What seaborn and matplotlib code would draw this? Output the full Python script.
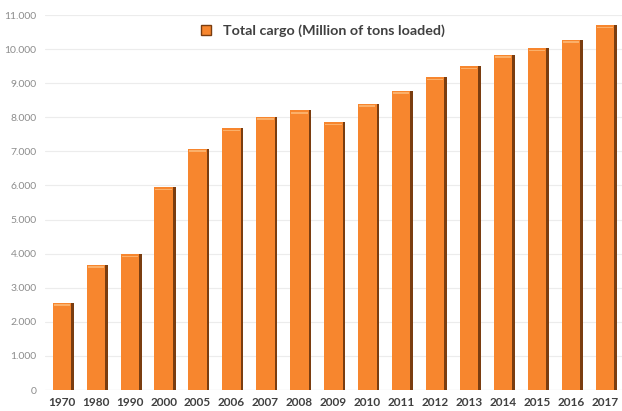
import numpy as np
import pandas as pd
import matplotlib.pyplot as plt
import seaborn as sns
from matplotlib.ticker import FuncFormatter
from matplotlib.lines import Line2D

# Datos
years = ["1970", "1980", "1990", "2000", "2005", "2006", "2007", "2008", "2009",
         "2010", "2011", "2012", "2013", "2014", "2015", "2016", "2017"]
cargo = [2560, 3680, 3980, 5950, 7080, 7680, 8020, 8200, 7850,
         8400, 8780, 9180, 9500, 9830, 10020, 10280, 10700]

df = pd.DataFrame({"Year": years, "Cargo": cargo})

sns.set_style("white")
plt.rcParams["font.family"] = ["Lato", "DejaVu Sans"]

fig = plt.figure(figsize=(6.22, 4.11), dpi=100)
ax = fig.add_axes([0.072, 0.051, 0.928, 0.9125])

# sombra oscura a la derecha de cada barra
x = np.arange(len(years))
ax.bar(x + 0.07, df["Cargo"], width=0.56, color="#7a3d10", linewidth=0, zorder=2)
sns.barplot(data=df, x="Year", y="Cargo", color="#f7862e", saturation=1,
            width=0.54, linewidth=0, ax=ax, zorder=3)
# brillo en la parte superior
ax.bar(x, [45] * len(x), bottom=df["Cargo"] - 90, width=0.48,
       color="#fbb06a", linewidth=0, zorder=4)

ax.set_ylim(0, 11000)
ax.set_xlim(-0.5, len(years) - 0.5)
ax.set_yticks(range(0, 11001, 1000))
ax.yaxis.set_major_formatter(FuncFormatter(lambda v, p: f"{int(v):,}".replace(",", ".")))
ax.grid(axis="y", color="#ececec", linewidth=0.8, zorder=0)
ax.set_axisbelow(True)
for s in ax.spines.values():
    s.set_visible(False)
ax.axhline(0, color="#d9d9d9", linewidth=0.8, zorder=1)

ax.set_xlabel("")
ax.set_ylabel("")
ax.tick_params(axis="y", labelsize=7.5, colors="#8c8c8c", length=0, pad=6)
ax.tick_params(axis="x", labelsize=8.5, length=0, pad=5)
for lbl in ax.get_xticklabels():
    lbl.set_fontweight("bold")
    lbl.set_color("#404040")

handle = Line2D([], [], marker="s", linestyle="", markersize=7,
                markerfacecolor="#f7862e", markeredgecolor="#7a3d10")
ax.legend([handle], ["Total cargo (Million of tons loaded)"], loc="upper center",
          bbox_to_anchor=(0.474, 1.01), frameon=False, handletextpad=0.2,
          prop={"weight": "bold", "size": 10.3}, labelcolor="#404040")

fig.savefig("out.png", dpi=100)
